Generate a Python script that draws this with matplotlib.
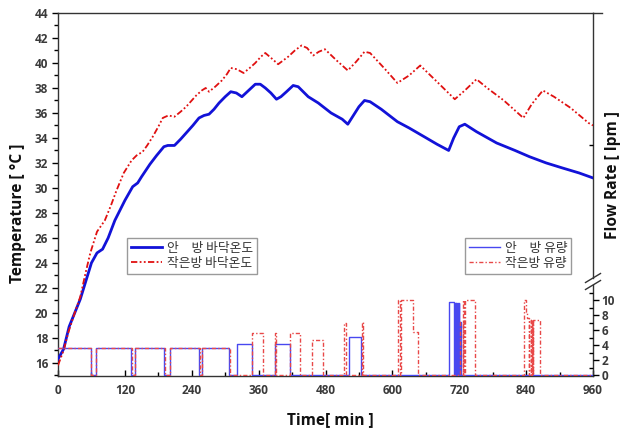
import matplotlib
matplotlib.use("Agg")
import matplotlib.pyplot as plt

plt.rcParams['font.family'] = ['Open Sans', 'Noto Sans CJK KR', 'DejaVu Sans']

# ---------------- data ----------------
t_blue = [0, 10, 20, 40, 60, 70, 80, 90, 102, 120, 134, 143, 150, 165, 177, 190, 197, 209,
          220, 230, 242, 253, 262, 271, 280, 289, 300, 310, 320, 330, 342, 354, 363, 372,
          382, 392, 400, 410, 422, 431, 449, 467, 490, 510, 520, 530, 540, 550, 560, 580,
          609, 630, 657, 680, 701, 710, 720, 730, 751, 787, 820, 846, 876, 905, 935, 960]
T_blue = [16.3, 17.1, 18.9, 21.1, 24.0, 24.8, 25.1, 26.0, 27.4, 29.0, 30.1, 30.4, 30.9, 31.9,
          32.6, 33.3, 33.4, 33.4, 33.9, 34.4, 35.0, 35.6, 35.8, 35.9, 36.3, 36.8, 37.3, 37.7,
          37.6, 37.3, 37.8, 38.3, 38.3, 38.0, 37.6, 37.1, 37.3, 37.7, 38.2, 38.1, 37.3, 36.8,
          36.0, 35.5, 35.1, 35.8, 36.5, 37.0, 36.9, 36.3, 35.3, 34.8, 34.1, 33.5, 33.0, 34.0,
          34.9, 35.1, 34.5, 33.6, 33.0, 32.5, 32.0, 31.6, 31.2, 30.8]

t_red = [0, 10, 19, 30, 40, 50, 58, 70, 84, 95, 105, 118, 132, 141, 152, 160, 170, 180, 188,
         198, 209, 220, 230, 240, 248, 258, 265, 271, 282, 294, 303, 310, 321, 333, 344, 354,
         364, 372, 385, 395, 404, 413, 425, 437, 447, 458, 468, 479, 500, 520, 535, 550, 560,
         585, 609, 630, 650, 680, 712, 730, 751, 770, 800, 835, 850, 870, 890, 920, 952, 960]
T_red = [15.8, 17.0, 18.5, 20.0, 21.3, 23.3, 24.8, 26.5, 27.4, 28.6, 29.8, 31.2, 32.2, 32.6,
         32.9, 33.4, 34.1, 34.9, 35.6, 35.8, 35.7, 36.1, 36.5, 37.0, 37.4, 37.8, 38.0, 37.7,
         38.1, 38.6, 39.1, 39.6, 39.5, 39.2, 39.6, 40.0, 40.5, 40.8, 40.3, 39.9, 40.2, 40.5,
         41.0, 41.4, 41.2, 40.6, 40.9, 41.1, 40.2, 39.4, 40.1, 40.9, 40.8, 39.6, 38.4, 39.0,
         39.8, 38.5, 37.1, 37.8, 38.7, 38.0, 37.0, 35.6, 36.7, 37.8, 37.3, 36.4, 35.2, 35.0]

tf_blue = [0, 59, 68, 131, 139, 191, 201, 253, 259, 307, 321, 349, 390, 417, 522, 544,
           702, 711, 713, 714, 715, 716, 717, 718, 719, 720, 721, 723, 960]
F_blue = [3.6, 0, 3.6, 0, 3.6, 0, 3.6, 0, 3.6, 0, 4.2, 0, 4.2, 0, 5.1, 0,
          9.8, 0, 9.6, 0, 9.6, 0, 9.6, 0, 9.6, 0, 7.1, 0, 0]

tf_red = [0, 60, 68, 132, 139, 192, 201, 254, 258, 308, 349, 367, 390, 392, 417, 435,
          455, 476, 514, 516, 545, 547, 610, 613, 616, 637, 646, 721, 726, 727, 729, 731,
          748, 837, 839, 842, 845, 846, 849, 849.5, 850.5, 851, 852, 852.5, 864, 960]
F_red = [3.6, 0, 3.6, 0, 3.6, 0, 3.6, 0, 3.6, 0, 5.6, 0, 5.6, 0, 5.6, 0,
         4.7, 0, 7.0, 0, 7.1, 0, 10, 0, 10, 5.8, 0, 7.1, 0, 10, 0, 10,
         0, 10, 8.4, 7.6, 0, 7.4, 0, 7.4, 0, 7.4, 0, 7.4, 0, 0]

x_ticks = [0, 120, 240, 360, 480, 600, 720, 840, 960]
y_ticks = [16, 18, 20, 22, 24, 26, 28, 30, 32, 34, 36, 38, 40, 42, 44]
f_ticks = [0, 2, 4, 6, 8, 10]

lab_blue_T = "안\u3000방 바닥온도"
lab_red_T = "작은방 바닥온도"
lab_blue_F = "안\u3000방 유량"
lab_red_F = "작은방 유량"

# ---------------- figure ----------------
W, H = 633, 433
fig = plt.figure(figsize=(W / 100, H / 100), dpi=100)
L, R, B, T = 58, 593, 376, 13
ax = fig.add_axes([L / W, 1 - B / H, (R - L) / W, (B - T) / H])
ax2 = ax.twinx()

tick_kw = dict(fontsize=8.5, fontweight='bold', color='#3a3a3a')

blue_c = '#1212d8'
red_c = '#e01010'

lb, = ax.plot(t_blue, T_blue, color=blue_c, lw=2.0, label=lab_blue_T, zorder=3)
lr, = ax.plot(t_red, T_red, color=red_c, lw=1.3, ls=(0, (3.5, 1.3, 1, 1.3, 1, 1.3)),
              label=lab_red_T, zorder=3)

fb, = ax2.plot(tf_blue, F_blue, drawstyle='steps-post', color='#4848f0', lw=1.0,
               label=lab_blue_F)
fr, = ax2.plot(tf_red, F_red, drawstyle='steps-post', color='#e84848', lw=1.0,
               ls=(0, (3, 1.5, 1, 1.5)), label=lab_red_F)

ax.set_xlim(0, 960)
ax.set_ylim(14.95, 44)
ax2.set_ylim(-0.13, -0.13 + (B - T) / 7.5)

ax.set_xticks(x_ticks)
ax.set_xticks(range(60, 960, 120), minor=True)
ax.set_yticks(y_ticks)
ax.set_yticks([15 + 2 * i for i in range(15)], minor=True)
ax.set_xticklabels([str(v) for v in x_ticks], **tick_kw)
ax.set_yticklabels([str(v) for v in y_ticks], **tick_kw)
ax.tick_params(axis='x', which='major', direction='in', length=4, width=1, pad=6)
ax.tick_params(axis='x', which='minor', direction='in', length=3, width=1)
ax.tick_params(axis='y', which='major', direction='out', length=4, width=1, pad=3)
ax.tick_params(axis='y', which='minor', direction='out', length=3, width=1)
ax.tick_params(top=False, right=False)

ax2.set_yticks(f_ticks)
ax2.set_yticklabels([str(v) for v in f_ticks], **tick_kw)
ax2.set_yticks([1, 3, 5, 7, 9, 11, 30.7], minor=True)
ax2.tick_params(axis='y', which='major', direction='out', length=4, width=1, pad=2)
ax2.tick_params(axis='y', which='minor', direction='in', length=3, width=1)

for a in (ax, ax2):
    for s in ('left', 'bottom', 'top'):
        a.spines[s].set_color('#333333')
        a.spines[s].set_linewidth(1.0)
    a.spines['right'].set_visible(False)
ax2.spines['left'].set_visible(False)
ax2.spines['top'].set_visible(False)
ax2.spines['bottom'].set_visible(False)

# top line extends slightly past right spine
ax.plot([1, 1 + 9 / (R - L)], [1, 1], transform=ax.transAxes, color='#333333', lw=1.0,
        clip_on=False)

# right spine with axis break
yb_lo = (B - 285) / (B - T)
yb_hi = (B - 278) / (B - T)
ax.plot([1, 1], [0, yb_lo], transform=ax.transAxes, color='#333333', lw=1.0, clip_on=False)
ax.plot([1, 1], [yb_hi, 1], transform=ax.transAxes, color='#333333', lw=1.0, clip_on=False)
dx = 7.5 / (R - L)
dy = 4.5 / (B - T)
for yc in (yb_lo, yb_hi):
    ax.plot([1 - dx, 1 + dx], [yc - dy, yc + dy], transform=ax.transAxes,
            color='#333333', lw=1.0, clip_on=False)

# axis labels
lab_kw = dict(fontsize=11.2, fontweight='bold', color='#111111')
fig.text(18 / W, 1 - 213 / H, "Temperature [ °C ]", rotation=90, ha='center', va='center', **lab_kw)
fig.text(330 / W, 1 - 420 / H, "Time[ min ]", ha='center', va='center', **lab_kw)
fig.text(613 / W, 1 - 175 / H, "Flow Rate [ lpm ]", rotation=90, ha='center', va='center', **lab_kw)

leg_kw = dict(loc='upper left', bbox_transform=fig.transFigure, borderaxespad=0,
              fancybox=False, edgecolor='#9a9a9a', framealpha=1,
              prop={'family': ['Noto Sans CJK KR'], 'size': 9.2},
              handlelength=2.4, handletextpad=0.4, labelspacing=0.15, borderpad=0.3)
leg1 = ax.legend(handles=[lb, lr], bbox_to_anchor=(127 / W, 1 - 238 / H), **leg_kw)
for txt in leg1.get_texts():
    txt.set_color('#333333')
leg2 = ax2.legend(handles=[fb, fr], bbox_to_anchor=(465 / W, 1 - 238 / H), **leg_kw)
for txt in leg2.get_texts():
    txt.set_color('#333333')
leg1.get_frame().set_linewidth(1.0)
leg2.get_frame().set_linewidth(1.0)

fig.savefig("out.png", dpi=100)
